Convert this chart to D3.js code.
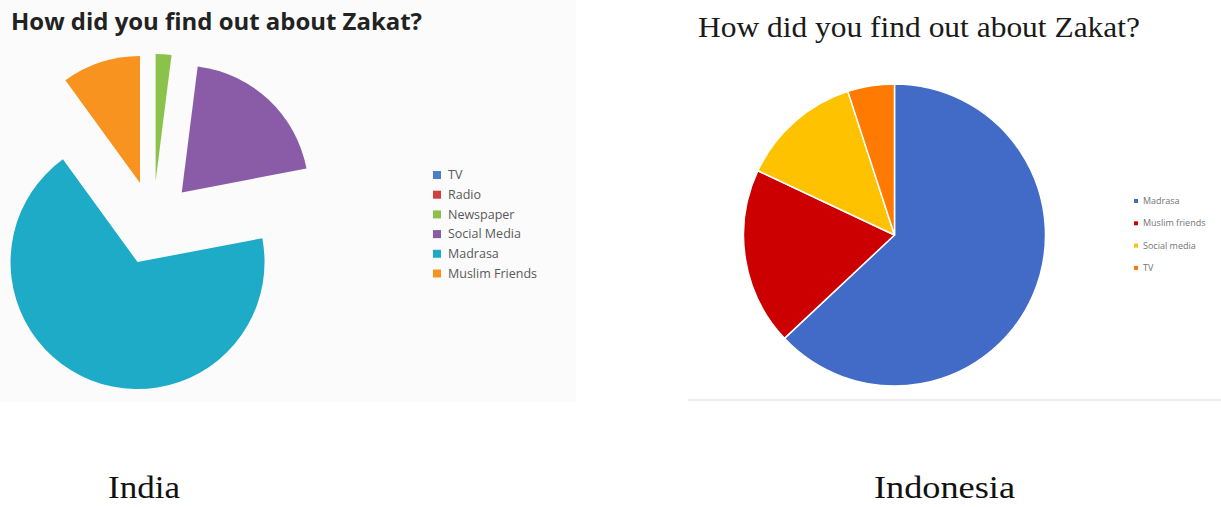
<!DOCTYPE html>
<html>
<head>
<meta charset="utf-8">
<script src="https://cdn.jsdelivr.net/npm/d3@7"></script>
<style>
  html, body { margin: 0; padding: 0; background: #ffffff; }
  svg { display: block; }
</style>
</head>
<body>
<svg id="chart" width="1221" height="507"></svg>
<script>
// India survey: sources of learning about Zakat (percent of respondents)
const indiaCategories = ["TV", "Radio", "Newspaper", "Social Media", "Madrasa", "Muslim Friends"];
const indiaValues = [0, 0, 2, 20, 68, 10];
const indiaColors = ["#4a7fca", "#d13f3f", "#8bc24c", "#8a5ca8", "#1eabc8", "#f7931e"];

// Indonesia survey
const indonesiaCategories = ["Madrasa", "Muslim friends", "Social media", "TV"];
const indonesiaValues = [63, 19, 13, 5];
const indonesiaColors = ["#426bc8", "#cc0000", "#ffc200", "#ff7a00"];

const chartTitle = "How did you find out about Zakat?";
const countryLabels = ["India", "Indonesia"];

const svg = d3.select("#chart");

// ---------- India panel (exploded pie) ----------
svg.append("rect")
  .attr("x", 0).attr("y", 0).attr("width", 576).attr("height", 402)
  .attr("fill", "#fbfbfb");

svg.append("text")
  .attr("x", 11).attr("y", 30)
  .attr("font-family", "'Open Sans', sans-serif")
  .attr("font-weight", 700)
  .attr("font-size", 24)
  .attr("fill", "#222222")
  .attr("textLength", 411)
  .attr("lengthAdjust", "spacingAndGlyphs")
  .text(chartTitle);

const pie = d3.pie().sort(null).value(d => d);

const indiaArcs = pie(indiaValues);
const indiaRadius = 127;
const explode = 42;
const indiaArc = d3.arc().innerRadius(0).outerRadius(indiaRadius);
const indiaG = svg.append("g").attr("transform", "translate(153,223)");

indiaG.selectAll("path")
  .data(indiaArcs)
  .join("path")
  .attr("d", indiaArc)
  .attr("fill", (d, i) => indiaColors[i])
  .attr("transform", d => {
    const mid = (d.startAngle + d.endAngle) / 2;
    return `translate(${Math.sin(mid) * explode},${-Math.cos(mid) * explode})`;
  });

const indiaLegend = svg.append("g").attr("transform", "translate(433,175)");
const indiaItems = indiaLegend.selectAll("g")
  .data(indiaCategories)
  .join("g")
  .attr("transform", (d, i) => `translate(0,${i * 19.7})`);
indiaItems.append("rect")
  .attr("x", 0).attr("y", -4).attr("width", 8).attr("height", 8)
  .attr("fill", (d, i) => indiaColors[i]);
indiaItems.append("text")
  .attr("x", 15).attr("y", 0).attr("dy", "0.35em")
  .attr("font-family", "'Open Sans', sans-serif")
  .attr("font-size", 12.5)
  .attr("fill", "#595959")
  .text(d => d);

// ---------- Indonesia panel ----------
svg.append("rect")
  .attr("x", 688).attr("y", 399).attr("width", 533).attr("height", 2)
  .attr("fill", "#eeeeee");

svg.append("text")
  .attr("x", 698).attr("y", 36.5)
  .attr("font-family", "'Liberation Serif', serif")
  .attr("font-size", 28.5)
  .attr("fill", "#1a1a1a")
  .attr("textLength", 442)
  .attr("lengthAdjust", "spacingAndGlyphs")
  .text(chartTitle);

const indoArcs = pie(indonesiaValues);
const indoArc = d3.arc().innerRadius(0).outerRadius(151);
const indoG = svg.append("g").attr("transform", "translate(894.5,235)");
indoG.selectAll("path")
  .data(indoArcs)
  .join("path")
  .attr("d", indoArc)
  .attr("fill", (d, i) => indonesiaColors[i])
  .attr("stroke", "#ffffff")
  .attr("stroke-width", 1.5)
  .attr("stroke-linejoin", "round");

const indoLegend = svg.append("g").attr("transform", "translate(1134,201)");
const indoItems = indoLegend.selectAll("g")
  .data(indonesiaCategories)
  .join("g")
  .attr("transform", (d, i) => `translate(0,${i * 22.3})`);
indoItems.append("rect")
  .attr("x", 0).attr("y", -2).attr("width", 4).attr("height", 4)
  .attr("fill", (d, i) => indonesiaColors[i]);
indoItems.append("text")
  .attr("x", 9).attr("y", 0).attr("dy", "0.35em")
  .attr("font-family", "'Open Sans', sans-serif")
  .attr("font-size", 9)
  .attr("fill", "#757575")
  .text(d => d);

// ---------- Country captions ----------
const captionX = [108, 874];
const captionW = [72, 141];
svg.selectAll("text.caption")
  .data(countryLabels)
  .join("text")
  .attr("class", "caption")
  .attr("x", (d, i) => captionX[i])
  .attr("y", 498)
  .attr("font-family", "'Liberation Serif', serif")
  .attr("font-size", 32)
  .attr("fill", "#111111")
  .attr("textLength", (d, i) => captionW[i])
  .attr("lengthAdjust", "spacingAndGlyphs")
  .text(d => d);
</script>
</body>
</html>
